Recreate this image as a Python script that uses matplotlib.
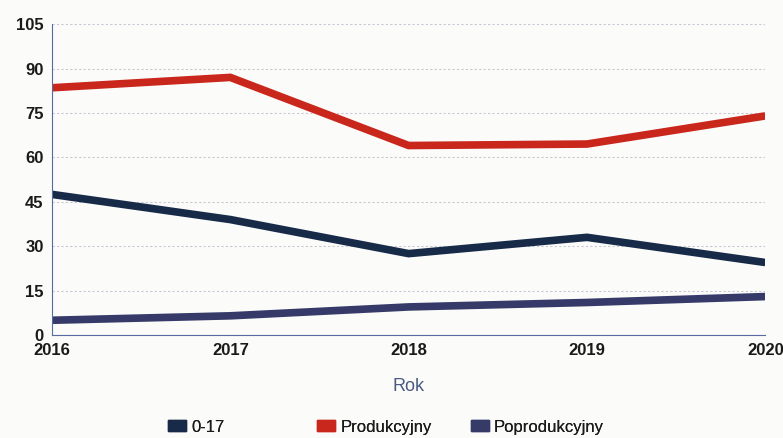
import matplotlib
matplotlib.use("Agg")
import matplotlib.pyplot as plt
from matplotlib.patches import Patch

years = [2016, 2017, 2018, 2019, 2020]
s_0_17 = [47.5, 39, 27.5, 33, 24.5]
s_prod = [83.5, 87, 64, 64.5, 74]
s_poprod = [5, 6.5, 9.5, 11, 13]
series_names = ["0-17", "Produkcyjny", "Poprodukcyjny"]
colors = ["#172a48", "#c9261c", "#363a68"]
yticks = [0, 15, 30, 45, 60, 75, 90, 105]

plt.rcParams['font.family'] = ['Liberation Sans', 'DejaVu Sans']
fig = plt.figure(figsize=(7.83, 4.38), dpi=100)
fig.patch.set_facecolor("#fbfbfa")
ax = fig.add_axes([0.0664, 0.235, 0.911, 0.71])
ax.set_facecolor("#fbfbfa")

for vals, c in zip([s_0_17, s_prod, s_poprod], colors):
    ax.plot(years, vals, color=c, lw=5.5, solid_joinstyle="miter", solid_capstyle="butt")

ax.set_xlim(2016, 2020)
ax.set_ylim(0, 105)
ax.set_yticks(yticks)
ax.set_xticks(years)
ax.grid(axis="y", color="#c8c8d4", lw=0.8, ls=(0, (2, 2)))
ax.set_axisbelow(True)
for sp in ["top", "right"]:
    ax.spines[sp].set_visible(False)
ax.spines["left"].set_color("#5a6aa0")
ax.spines["bottom"].set_color("#5a6aa0")
ax.tick_params(length=0, labelsize=12, colors="#1a1a1a", pad=6)
for lbl in ax.get_xticklabels() + ax.get_yticklabels():
    lbl.set_fontweight("bold")
ax.set_xlabel("Rok", fontsize=13, color="#4a5a80", labelpad=14)

legend_x = [0.214, 0.405, 0.601]
for name, c, lx in zip(series_names, colors, legend_x):
    leg = fig.legend([Patch(facecolor=c, edgecolor=c)], [name], loc="center left",
                     bbox_to_anchor=(lx, 0.025), frameon=False, fontsize=12,
                     handlelength=1.1, handleheight=0.6, handletextpad=0.3,
                     borderaxespad=0, borderpad=0)
    for t in leg.get_texts():
        t.set_color("#1a1a1a")
    fig.add_artist(leg)

fig.savefig("out.png", dpi=100, facecolor=fig.get_facecolor())
